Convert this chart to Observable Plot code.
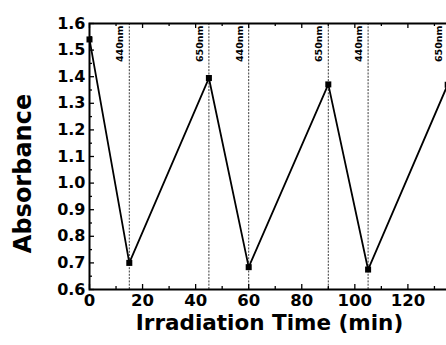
<!DOCTYPE html>
<html><head><meta charset="utf-8">
<script src="https://cdn.jsdelivr.net/npm/d3@7"></script>
<script src="https://cdn.jsdelivr.net/npm/@observablehq/plot@0.6"></script>
<style>
html,body{margin:0;padding:0;overflow:hidden;background:#fff;width:446px;height:345px}
#chart{width:446px;height:345px;overflow:hidden}
#chart svg{max-width:none !important;width:497px !important;height:345px !important}
</style>
</head><body><div id="chart"></div>
<script>
const times = [0, 15, 45, 60, 90, 105, 135];
const absorbance = [1.54, 0.70, 1.395, 0.684, 1.371, 0.675, 1.37];
const switchTimes = [15, 45, 60, 90, 105, 135];
const switchLabels = ["440nm", "650nm", "440nm", "650nm", "440nm", "650nm"];
const xTicks = [0, 20, 40, 60, 80, 100, 120, 140];
const xTickLabels = [0, 20, 40, 60, 80, 100, 120];
const xMinorTicks = [10, 30, 50, 70, 90, 110, 130, 150];
const yTicks = [0.6, 0.7, 0.8, 0.9, 1.0, 1.1, 1.2, 1.3, 1.4, 1.5, 1.6];
const yMinorTicks = [0.65, 0.75, 0.85, 0.95, 1.05, 1.15, 1.25, 1.35, 1.45, 1.55];
const xLabel = "Irradiation Time (min)";
const yLabel = "Absorbance";

const W = 497, H = 345, mL = 89, mR = 10, mT = 23, mB = 56;
const plotW = W - mL - mR, plotH = H - mT - mB;
const font = "DejaVu Sans";
const points = times.map((t, i) => ({t, a: absorbance[i]}));
const switches = switchTimes.map((t, i) => ({t, label: switchLabels[i]}));

const chart = Plot.plot({
  width: W, height: H,
  marginLeft: mL, marginRight: mR, marginTop: mT, marginBottom: mB,
  style: {fontFamily: font, fontWeight: "bold", background: "#fff", color: "#000", maxWidth: "none"},
  x: {domain: [0, 150]},
  y: {domain: [0.6, 1.6]},
  marks: [
    Plot.ruleX(switches, {x: "t", stroke: "#222", strokeWidth: 0.9, strokeDasharray: "2,1.3"}),
    Plot.text(switches, {x: "t", y: () => 1.6, text: "label", rotate: -90, textAnchor: "end",
      dx: -9, dy: 2, fontSize: 9.5, fontWeight: "bold", fontFamily: font, fill: "#000"}),
    Plot.line(points, {x: "t", y: "a", stroke: "#000", strokeWidth: 1.8}),
    Plot.dot(points, {x: "t", y: "a", symbol: "square", r: 3.4, fill: "#000"}),
    Plot.tickX(xTicks, {x: d => d, insetTop: plotH - 5, stroke: "#000", strokeWidth: 1.3}),
    Plot.tickX(xMinorTicks, {x: d => d, insetTop: plotH - 3, stroke: "#000", strokeWidth: 1.3}),
    Plot.tickX(xTicks, {x: d => d, insetBottom: plotH - 5, stroke: "#000", strokeWidth: 1.3}),
    Plot.tickX(xMinorTicks, {x: d => d, insetBottom: plotH - 3, stroke: "#000", strokeWidth: 1.3}),
    Plot.tickY(yTicks, {y: d => d, insetRight: plotW - 5, stroke: "#000", strokeWidth: 1.3}),
    Plot.tickY(yMinorTicks, {y: d => d, insetRight: plotW - 3, stroke: "#000", strokeWidth: 1.3}),
    Plot.axisX({ticks: xTickLabels, tickSize: 0, tickPadding: 5, label: null, fontSize: 16.5, fontWeight: "bold", fontFamily: font, tickFormat: d => d}),
    Plot.axisY({ticks: yTicks, tickSize: 0, tickPadding: 4, label: null, fontSize: 16, fontWeight: "bold", fontFamily: font, tickFormat: d => d.toFixed(1)}),
    Plot.frame({stroke: "#000", strokeWidth: 2}),
    Plot.text([xLabel], {frameAnchor: "bottom-left", textAnchor: "middle", dx: 180, dy: 40, text: d => d,
      fontSize: 21.5, fontWeight: "bold", fontFamily: font, fill: "#000"}),
    Plot.text([yLabel], {frameAnchor: "left", textAnchor: "middle", dx: -66, dy: 17, rotate: -90, text: d => d,
      fontSize: 24, fontWeight: "bold", fontFamily: font, fill: "#000"})
  ]
});
document.getElementById("chart").appendChild(chart);
</script>
</body></html>
